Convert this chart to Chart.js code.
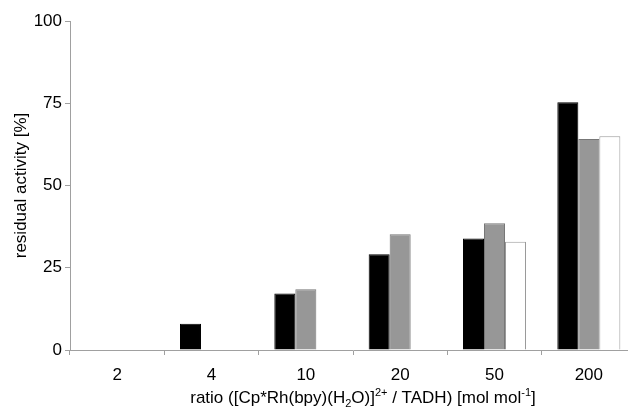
<!DOCTYPE html>
<html>
<head>
<meta charset="utf-8">
<script src="https://cdn.jsdelivr.net/npm/chart.js@4.4.1/dist/chart.umd.min.js"></script>
<style>
  html, body { margin: 0; padding: 0; background: #fff; }
  #wrap { width: 628px; height: 409px; overflow: hidden; position: relative; }
  canvas { display: block; }
</style>
</head>
<body>
<div id="wrap"><canvas id="chart" width="660" height="409"></canvas></div>
<script>
const categories = ['2', '4', '10', '20', '50', '200'];
const blackValues = [null, 8, 17.2, 29.1, 33.9, 75.3];
const greyValues = [null, null, 18.5, 35.2, 38.5, 64.1];
const whiteValues = [null, null, null, null, 32.9, 65.0];
const yTicks = [0, 25, 50, 75, 100];

const yTitle = 'residual activity [%]';
// pieces of the x title: [text, 0 normal / -1 subscript / 1 superscript]
const xTitleParts = [
  ['ratio ([Cp*Rh(bpy)(H', 0],
  ['2', -1],
  ['O)]', 0],
  ['2+', 1],
  [' / TADH) [mol mol', 0],
  ['-1', 1],
  [']', 0],
];

const FONT = '"Liberation Sans", Arial, sans-serif';
const AXIS_GREY = '#a0a0a0';

const xTitlePlugin = {
  id: 'xTitle',
  afterDraw(chart) {
    const { ctx, chartArea } = chart;
    const size = 17;
    const small = 11;
    ctx.save();
    ctx.fillStyle = '#000';
    ctx.textBaseline = 'alphabetic';
    ctx.textAlign = 'left';

    let total = 0;
    xTitleParts.forEach(([text, mode]) => {
      ctx.font = `${mode === 0 ? size : small}px ${FONT}`;
      total += ctx.measureText(text).width;
    });

    const centerX = (chartArea.left + chartArea.right) / 2 + 10;
    const baseY = chartArea.bottom + 53;
    let x = centerX - total / 2;
    xTitleParts.forEach(([text, mode]) => {
      ctx.font = `${mode === 0 ? size : small}px ${FONT}`;
      const y = mode === -1 ? baseY + 4 : mode === 1 ? baseY - 7 : baseY;
      ctx.fillText(text, x, y);
      x += ctx.measureText(text).width;
    });
    ctx.restore();
  },
};

function makeDataset(label, data, fill, border) {
  return {
    label,
    data,
    backgroundColor: fill,
    borderColor: border,
    borderWidth: 1,
    categoryPercentage: 0.668,
    barPercentage: 1.0,
  };
}

new Chart(document.getElementById('chart').getContext('2d'), {
  type: 'bar',
  data: {
    labels: categories,
    datasets: [
      makeDataset('black', blackValues, '#000000', '#000000'),
      makeDataset('grey', greyValues, '#979797', '#777777'),
      makeDataset('white', whiteValues, '#ffffff', '#9a9a9a'),
    ],
  },
  options: {
    responsive: false,
    animation: false,
    devicePixelRatio: 1,
    layout: { padding: { top: 21, right: 24, left: 0, bottom: 0 } },
    plugins: {
      legend: { display: false },
      tooltip: { enabled: false },
    },
    scales: {
      x: {
        offset: true,
        grid: {
          offset: true,
          drawOnChartArea: false,
          drawTicks: true,
          tickLength: 5,
          color: AXIS_GREY,
        },
        border: { display: true, color: AXIS_GREY, width: 1 },
        ticks: {
          color: '#000',
          padding: 10,
          maxRotation: 0,
          font: { family: FONT, size: 17 },
        },
        afterFit(scale) { scale.height = 59; },
      },
      y: {
        min: 0,
        max: 100,
        afterBuildTicks(scale) { scale.ticks = yTicks.map((v) => ({ value: v })); },
        grid: {
          drawOnChartArea: false,
          drawTicks: true,
          tickLength: 5,
          color: AXIS_GREY,
        },
        border: { display: true, color: AXIS_GREY, width: 1 },
        ticks: {
          color: '#000',
          padding: 3,
          font: { family: FONT, size: 17 },
        },
        title: {
          display: true,
          text: yTitle,
          color: '#000',
          padding: { top: 11, bottom: 0 },
          font: { family: FONT, size: 17 },
        },
        afterFit(scale) { scale.width = 70; },
      },
    },
  },
  plugins: [xTitlePlugin],
});
</script>
</body>
</html>
